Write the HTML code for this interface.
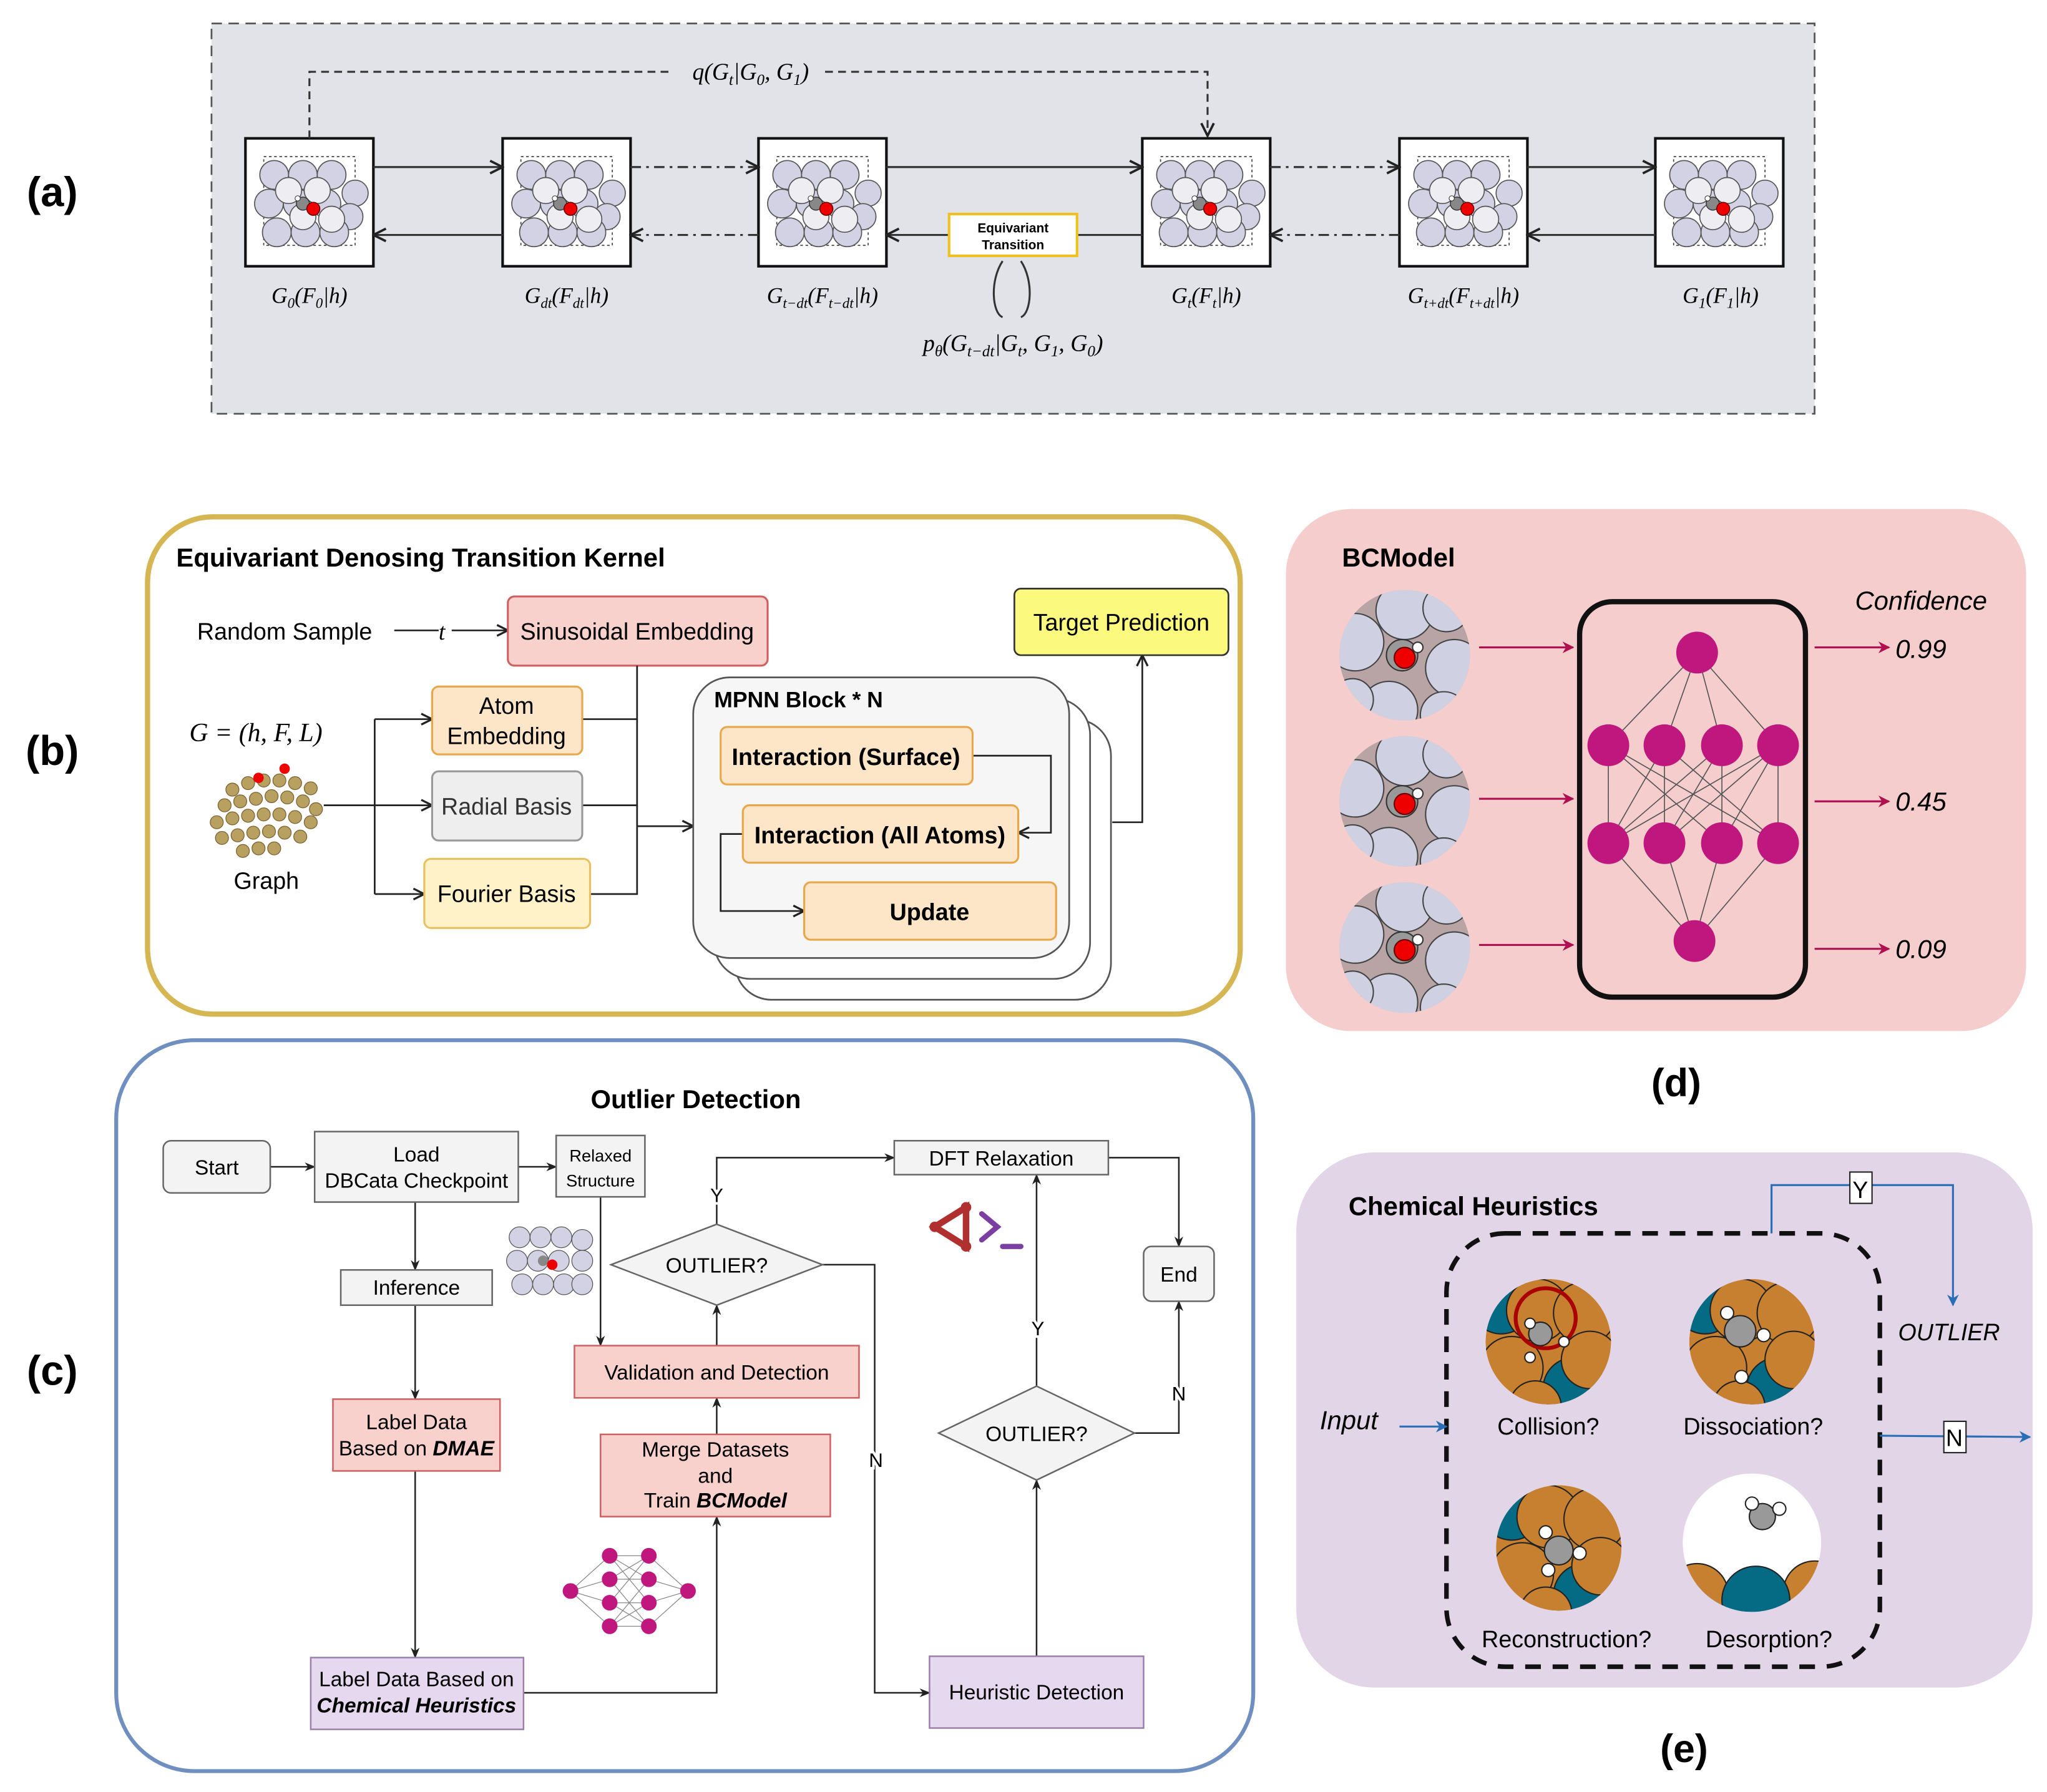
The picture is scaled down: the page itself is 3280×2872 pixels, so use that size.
<!DOCTYPE html>
<html><head><meta charset="utf-8"><style>
html,body{margin:0;padding:0;background:#fff;}
svg{display:block;}
text{font-family:"Liberation Sans",sans-serif;}
.s, .s text{font-family:"Liberation Serif",serif;font-style:italic;}
</style></head><body>
<svg width="3280" height="2872" viewBox="0 0 1568 1373" xmlns="http://www.w3.org/2000/svg">
<defs>
<clipPath id="c50"><circle r="50"/></clipPath>
<clipPath id="c48"><circle r="48"/></clipPath>
<clipPath id="c53"><circle cx="1342" cy="1182" r="53"/></clipPath>
<marker id="ah" viewBox="0 0 10 10" refX="9" refY="5" markerWidth="7" markerHeight="7" orient="auto-start-reverse"><path d="M0,1 L10,5 L0,9 L3,5z" fill="#222"/></marker>
<marker id="ao" viewBox="0 0 10 10" refX="9" refY="5" markerWidth="8" markerHeight="8" orient="auto"><path d="M1,1 L9,5 L1,9" fill="none" stroke="#222" stroke-width="1.5"/></marker>
<marker id="ar" viewBox="0 0 10 10" refX="9" refY="5" markerWidth="6" markerHeight="6" orient="auto"><path d="M0,0 L10,5 L0,10 L3,5z" fill="#b01050"/></marker>
<marker id="ab" viewBox="0 0 10 10" refX="9" refY="5" markerWidth="6" markerHeight="6" orient="auto"><path d="M0,0 L10,5 L0,10 L3,5z" fill="#2a6fb5"/></marker>
<g id="slab">
<rect x="0" y="0" width="98" height="98" fill="#fff" stroke="#111" stroke-width="2"/>
<rect x="14" y="14" width="70" height="68" fill="none" stroke="#444" stroke-dasharray="2,2" stroke-width="0.8"/>
<g fill="#d2d2e4" stroke="#555" stroke-width="0.8">
<circle cx="22" cy="28" r="11"/><circle cx="44" cy="28" r="11"/><circle cx="66" cy="28" r="11"/><circle cx="84" cy="42" r="10"/>
<circle cx="18" cy="50" r="11"/><circle cx="40" cy="50" r="11"/><circle cx="62" cy="50" r="11"/><circle cx="80" cy="60" r="10"/>
<circle cx="24" cy="72" r="11"/><circle cx="46" cy="72" r="11"/><circle cx="68" cy="72" r="11"/>
</g>
<g fill="#eeeef2" stroke="#555" stroke-width="0.8"><circle cx="33" cy="40" r="10"/><circle cx="55" cy="40" r="10"/><circle cx="44" cy="60" r="10"/><circle cx="66" cy="62" r="10"/></g>
<circle cx="44" cy="50" r="5" fill="#888" stroke="#333" stroke-width="0.7"/>
<circle cx="52" cy="54" r="5" fill="#e00" stroke="#600" stroke-width="0.7"/>
<circle cx="40" cy="46" r="2" fill="#fff" stroke="#333" stroke-width="0.5"/>
</g>
<g id="mol">
<g clip-path="url(#c50)">
<circle r="50" fill="#b8a4a4"/>
<g fill="#cfd0e2" stroke="#444" stroke-width="1">
<circle cx="0" cy="-34" r="22"/><circle cx="-38" cy="-10" r="22"/><circle cx="38" cy="10" r="22"/><circle cx="-12" cy="42" r="22"/><circle cx="32" cy="-36" r="18"/><circle cx="30" cy="46" r="18"/><circle cx="-40" cy="34" r="16"/>
</g>
<circle cx="-2" cy="0" r="12" fill="#999" stroke="#333"/>
<circle cx="0" cy="2" r="8" fill="#e00" stroke="#600"/>
<circle cx="10" cy="-6" r="4" fill="#fff" stroke="#333"/>
</g>
</g>
<g id="cu">
<g clip-path="url(#c48)">
<circle r="48" fill="#c6802f"/>
<g stroke="#222" stroke-width="1">
<circle cx="-36" cy="-30" r="24" fill="#056a84"/><circle cx="20" cy="36" r="24" fill="#056a84"/>
<circle cx="-8" cy="-24" r="24" fill="#c6802f"/><circle cx="28" cy="-22" r="24" fill="#c6802f"/><circle cx="-28" cy="20" r="24" fill="#c6802f"/><circle cx="32" cy="14" r="22" fill="#c6802f"/><circle cx="-10" cy="50" r="20" fill="#c6802f"/>
</g>
</g>
</g>
</defs>

<!-- (a) -->
<text x="40" y="158" font-size="32" font-weight="bold" text-anchor="middle">(a)</text>
<rect x="162" y="18" width="1228" height="299" fill="#e1e3e8" stroke="#555" stroke-dasharray="8,5" stroke-width="1.3"/>
<use href="#slab" x="188" y="106"/><use href="#slab" x="385" y="106"/><use href="#slab" x="581" y="106"/>
<use href="#slab" x="875" y="106"/><use href="#slab" x="1072" y="106"/><use href="#slab" x="1268" y="106"/>
<g stroke="#333" stroke-width="1.5" fill="none">
<line x1="286" y1="128" x2="385" y2="128" marker-end="url(#ao)"/>
<line x1="483" y1="128" x2="581" y2="128" stroke-dasharray="8,4,2,4" marker-end="url(#ao)"/>
<line x1="679" y1="128" x2="875" y2="128" marker-end="url(#ao)"/>
<line x1="973" y1="128" x2="1072" y2="128" stroke-dasharray="8,4,2,4" marker-end="url(#ao)"/>
<line x1="1170" y1="128" x2="1268" y2="128" marker-end="url(#ao)"/>
<line x1="385" y1="180" x2="286" y2="180" marker-end="url(#ao)"/>
<line x1="581" y1="180" x2="483" y2="180" stroke-dasharray="8,4,2,4" marker-end="url(#ao)"/>
<line x1="727" y1="180" x2="679" y2="180" marker-end="url(#ao)"/>
<line x1="875" y1="180" x2="825" y2="180"/>
<line x1="1072" y1="180" x2="973" y2="180" stroke-dasharray="8,4,2,4" marker-end="url(#ao)"/>
<line x1="1268" y1="180" x2="1170" y2="180" marker-end="url(#ao)"/>
<path d="M237,106 V55 H515 M632,55 H925 V104" stroke-dasharray="6,4" marker-end="url(#ao)"/>
<path d="M768,200 C758,215 760,240 768,243 M782,200 C792,215 790,240 782,243"/>
</g>
<rect x="727" y="164" width="98" height="32" fill="#fff" stroke="#f0c020" stroke-width="2"/>
<text x="776" y="178" font-size="10" font-weight="bold" text-anchor="middle">Equivariant</text>
<text x="776" y="191" font-size="10" font-weight="bold" text-anchor="middle">Transition</text>
<text x="575" y="61" font-size="18" class="s" text-anchor="middle">q(G<tspan font-size="12" dy="4">t</tspan><tspan dy="-4">|G</tspan><tspan font-size="12" dy="4">0</tspan><tspan dy="-4">, G</tspan><tspan font-size="12" dy="4">1</tspan><tspan dy="-4">)</tspan></text>
<text x="776" y="269" font-size="18" class="s" text-anchor="middle">p<tspan font-size="12" dy="4">θ</tspan><tspan dy="-4">(G</tspan><tspan font-size="12" dy="4">t−dt</tspan><tspan dy="-4">|G</tspan><tspan font-size="12" dy="4">t</tspan><tspan dy="-4">, G</tspan><tspan font-size="12" dy="4">1</tspan><tspan dy="-4">, G</tspan><tspan font-size="12" dy="4">0</tspan><tspan dy="-4">)</tspan></text>
<g font-size="17" class="s" text-anchor="middle">
<text x="237" y="232">G<tspan font-size="11" dy="4">0</tspan><tspan dy="-4">(F</tspan><tspan font-size="11" dy="4">0</tspan><tspan dy="-4">|h)</tspan></text>
<text x="434" y="232">G<tspan font-size="11" dy="4">dt</tspan><tspan dy="-4">(F</tspan><tspan font-size="11" dy="4">dt</tspan><tspan dy="-4">|h)</tspan></text>
<text x="630" y="232">G<tspan font-size="11" dy="4">t−dt</tspan><tspan dy="-4">(F</tspan><tspan font-size="11" dy="4">t−dt</tspan><tspan dy="-4">|h)</tspan></text>
<text x="924" y="232">G<tspan font-size="11" dy="4">t</tspan><tspan dy="-4">(F</tspan><tspan font-size="11" dy="4">t</tspan><tspan dy="-4">|h)</tspan></text>
<text x="1121" y="232">G<tspan font-size="11" dy="4">t+dt</tspan><tspan dy="-4">(F</tspan><tspan font-size="11" dy="4">t+dt</tspan><tspan dy="-4">|h)</tspan></text>
<text x="1318" y="232">G<tspan font-size="11" dy="4">1</tspan><tspan dy="-4">(F</tspan><tspan font-size="11" dy="4">1</tspan><tspan dy="-4">|h)</tspan></text>
</g>

<!-- (b) -->
<text x="40" y="586" font-size="32" font-weight="bold" text-anchor="middle">(b)</text>
<rect x="113" y="396" width="837" height="381" rx="50" fill="#fff" stroke="#d6b652" stroke-width="4"/>
<text x="135" y="434" font-size="20" font-weight="bold">Equivariant Denosing Transition Kernel</text>
<text x="151" y="490" font-size="18">Random Sample</text>
<line x1="302" y1="483" x2="336" y2="483" stroke="#222" stroke-width="1.3"/>
<text x="336" y="490" font-size="18" class="s">t</text>
<line x1="346" y1="483" x2="389" y2="483" stroke="#222" stroke-width="1.3" marker-end="url(#ao)"/>
<rect x="389" y="457" width="199" height="53" rx="5" fill="#f8d0cc" stroke="#d06060" stroke-width="1.5"/>
<text x="488" y="490" font-size="18" text-anchor="middle">Sinusoidal Embedding</text>
<text x="145" y="568" font-size="20" class="s">G = (h, F, L)</text>
<g>
<g fill="#b8a060" stroke="#7a6030" stroke-width="0.6">
<circle cx="178" cy="605" r="5"/><circle cx="190" cy="600" r="5"/><circle cx="202" cy="598" r="5"/><circle cx="214" cy="598" r="5"/><circle cx="226" cy="600" r="5"/><circle cx="238" cy="604" r="5"/>
<circle cx="172" cy="617" r="5"/><circle cx="184" cy="614" r="5"/><circle cx="196" cy="612" r="5"/><circle cx="208" cy="610" r="5"/><circle cx="220" cy="611" r="5"/><circle cx="232" cy="614" r="5"/><circle cx="242" cy="620" r="5"/>
<circle cx="166" cy="630" r="5"/><circle cx="178" cy="627" r="5"/><circle cx="190" cy="625" r="5"/><circle cx="202" cy="624" r="5"/><circle cx="214" cy="624" r="5"/><circle cx="226" cy="626" r="5"/><circle cx="238" cy="630" r="5"/>
<circle cx="170" cy="642" r="5"/><circle cx="182" cy="640" r="5"/><circle cx="194" cy="638" r="5"/><circle cx="206" cy="637" r="5"/><circle cx="218" cy="638" r="5"/><circle cx="230" cy="641" r="5"/>
<circle cx="186" cy="652" r="5"/><circle cx="198" cy="650" r="5"/><circle cx="210" cy="650" r="5"/>
</g>
<circle cx="198" cy="596" r="4" fill="#e00"/><circle cx="218" cy="589" r="4" fill="#e00"/>
</g>
<text x="204" y="681" font-size="18" text-anchor="middle">Graph</text>
<g stroke="#222" stroke-width="1.3" fill="none">
<path d="M287,551 V685 M287,551 H331" marker-end="url(#ao)"/>
<path d="M287,685 H325" marker-end="url(#ao)"/>
<path d="M248,617 H331" marker-end="url(#ao)"/>
<path d="M488,510 V685 H452 M446,551 H488 M446,617 H488"/>
<path d="M488,633 H531" marker-end="url(#ao)"/>
<path d="M852,630 H875 V502" marker-end="url(#ao)"/>
</g>
<rect x="331" y="526" width="115" height="52" rx="5" fill="#fde5c8" stroke="#e8a74a" stroke-width="1.5"/>
<text x="388" y="547" font-size="18" text-anchor="middle">Atom</text><text x="388" y="570" font-size="18" text-anchor="middle">Embedding</text>
<rect x="331" y="591" width="115" height="53" rx="5" fill="#eeeeee" stroke="#999" stroke-width="1.5"/>
<text x="388" y="624" font-size="18" text-anchor="middle" fill="#333">Radial Basis</text>
<rect x="325" y="658" width="127" height="53" rx="5" fill="#fff2c8" stroke="#e8c060" stroke-width="1.5"/>
<text x="388" y="691" font-size="18" text-anchor="middle">Fourier Basis</text>
<rect x="563" y="551" width="288" height="215" rx="28" fill="#fff" stroke="#555" stroke-width="1.3"/>
<rect x="547" y="535" width="288" height="215" rx="28" fill="#fff" stroke="#555" stroke-width="1.3"/>
<rect x="531" y="519" width="288" height="215" rx="28" fill="#f6f6f6" stroke="#555" stroke-width="1.3"/>
<g stroke="#222" stroke-width="1.3" fill="none">
<path d="M745,579 H805 V638 H780" marker-end="url(#ao)"/>
<path d="M569,639 H552 V698 H616" marker-end="url(#ao)"/>
</g>
<text x="547" y="542" font-size="17" font-weight="bold">MPNN Block * N</text>
<rect x="552" y="557" width="193" height="44" rx="5" fill="#fde5c8" stroke="#e8a74a" stroke-width="1.5"/>
<text x="648" y="586" font-size="18" font-weight="bold" text-anchor="middle">Interaction (Surface)</text>
<rect x="569" y="617" width="211" height="44" rx="5" fill="#fde5c8" stroke="#e8a74a" stroke-width="1.5"/>
<text x="674" y="646" font-size="18" font-weight="bold" text-anchor="middle">Interaction (All Atoms)</text>
<rect x="616" y="676" width="193" height="44" rx="5" fill="#fde5c8" stroke="#e8a74a" stroke-width="1.5"/>
<text x="712" y="705" font-size="18" font-weight="bold" text-anchor="middle">Update</text>
<rect x="777" y="451" width="164" height="51" rx="5" fill="#fbf97e" stroke="#333" stroke-width="1.3"/>
<text x="859" y="483" font-size="18" text-anchor="middle">Target Prediction</text>

<!-- (d) -->
<rect x="985" y="390" width="567" height="400" rx="50" fill="#f4cdcc"/>
<text x="1028" y="434" font-size="20" font-weight="bold">BCModel</text>
<use href="#mol" x="1076" y="502"/><use href="#mol" x="1076" y="614"/><use href="#mol" x="1076" y="726"/>
<g stroke="#b01050" stroke-width="1.5">
<line x1="1133" y1="496" x2="1205" y2="496" marker-end="url(#ar)"/>
<line x1="1133" y1="612" x2="1205" y2="612" marker-end="url(#ar)"/>
<line x1="1133" y1="724" x2="1205" y2="724" marker-end="url(#ar)"/>
<line x1="1390" y1="496" x2="1447" y2="496" marker-end="url(#ar)"/>
<line x1="1390" y1="614" x2="1447" y2="614" marker-end="url(#ar)"/>
<line x1="1390" y1="727" x2="1447" y2="727" marker-end="url(#ar)"/>
</g>
<rect x="1210" y="461" width="173" height="303" rx="25" fill="none" stroke="#111" stroke-width="4"/>
<g stroke="#555" stroke-width="0.8" fill="none">
<path d="M1300,500 L1232,571 M1300,500 L1275,571 M1300,500 L1319,571 M1300,500 L1362,571"/>
<path d="M1232,571 L1232,646 L1275,571 L1275,646 L1319,571 L1319,646 L1362,571 L1362,646 L1232,571 L1319,646 M1232,571 L1362,646 M1275,571 L1362,646 M1275,571 L1232,646 M1319,571 L1232,646 M1362,571 L1232,646 M1362,571 L1275,646 M1319,571 L1275,646"/>
<path d="M1298,721 L1232,646 M1298,721 L1275,646 M1298,721 L1319,646 M1298,721 L1362,646"/>
</g>
<g fill="#c0177f">
<circle cx="1300" cy="500" r="16"/>
<circle cx="1232" cy="571" r="16"/><circle cx="1275" cy="571" r="16"/><circle cx="1319" cy="571" r="16"/><circle cx="1362" cy="571" r="16"/>
<circle cx="1232" cy="646" r="16"/><circle cx="1275" cy="646" r="16"/><circle cx="1319" cy="646" r="16"/><circle cx="1362" cy="646" r="16"/>
<circle cx="1298" cy="721" r="16"/>
</g>
<g font-size="20" font-style="italic">
<text x="1421" y="467">Confidence</text>
<text x="1452" y="504">0.99</text><text x="1452" y="621">0.45</text><text x="1452" y="734">0.09</text>
</g>
<text x="1284" y="840" font-size="30" font-weight="bold" text-anchor="middle">(d)</text>

<!-- (c) -->
<text x="40" y="1061" font-size="32" font-weight="bold" text-anchor="middle">(c)</text>
<rect x="89" y="797" width="871" height="560" rx="60" fill="#fff" stroke="#6f8fc0" stroke-width="3"/>
<text x="533" y="849" font-size="20" font-weight="bold" text-anchor="middle">Outlier Detection</text>
<g stroke="#222" stroke-width="1.2" fill="none">
<path d="M207,894 H241" marker-end="url(#ah)"/>
<path d="M397,894 H426" marker-end="url(#ah)"/>
<path d="M318,921 V973" marker-end="url(#ah)"/>
<path d="M318,1000 V1072" marker-end="url(#ah)"/>
<path d="M318,1127 V1270" marker-end="url(#ah)"/>
<path d="M401,1297 H549 V1162" marker-end="url(#ah)"/>
<path d="M549,1099 V1071" marker-end="url(#ah)"/>
<path d="M549,1031 V1000" marker-end="url(#ah)"/>
<path d="M549,938 V887 H685" marker-end="url(#ah)"/>
<path d="M630,969 H670 V1297 H712" marker-end="url(#ah)"/>
<path d="M460,917 V1031" marker-end="url(#ah)"/>
<path d="M794,1269 V1134" marker-end="url(#ah)"/>
<path d="M794,1062 V900" marker-end="url(#ah)"/>
<path d="M869,1098 H903 V997" marker-end="url(#ah)"/>
<path d="M849,887 H903 V955" marker-end="url(#ah)"/>
</g>
<g font-size="15" text-anchor="middle">
<text x="549" y="921" fill="#111" stroke="#fff" stroke-width="4" paint-order="stroke">Y</text>
<text x="671" y="1124" stroke="#fff" stroke-width="4" paint-order="stroke">N</text>
<text x="795" y="1023" stroke="#fff" stroke-width="4" paint-order="stroke">Y</text>
<text x="903" y="1073" stroke="#fff" stroke-width="4" paint-order="stroke">N</text>
</g>
<rect x="125" y="874" width="82" height="40" rx="6" fill="#f3f3f3" stroke="#666" stroke-width="1.2"/>
<text x="166" y="900" font-size="16" text-anchor="middle">Start</text>
<rect x="241" y="867" width="156" height="54" fill="#f3f3f3" stroke="#666" stroke-width="1.2"/>
<text x="319" y="890" font-size="16" text-anchor="middle">Load</text><text x="319" y="910" font-size="16" text-anchor="middle">DBCata Checkpoint</text>
<rect x="426" y="870" width="68" height="47" fill="#f3f3f3" stroke="#666" stroke-width="1.2"/>
<text x="460" y="890" font-size="13" text-anchor="middle">Relaxed</text><text x="460" y="909" font-size="13" text-anchor="middle">Structure</text>
<rect x="261" y="973" width="116" height="27" fill="#f3f3f3" stroke="#666" stroke-width="1.2"/>
<text x="319" y="992" font-size="16" text-anchor="middle">Inference</text>
<rect x="255" y="1072" width="128" height="55" fill="#f8d0cc" stroke="#d06060" stroke-width="1.2"/>
<text x="319" y="1095" font-size="16" text-anchor="middle">Label Data</text><text x="319" y="1115" font-size="16" text-anchor="middle">Based on <tspan font-weight="bold" font-style="italic">DMAE</tspan></text>
<rect x="238" y="1270" width="163" height="55" fill="#e6d8ee" stroke="#9a80aa" stroke-width="1.2"/>
<text x="319" y="1292" font-size="16" text-anchor="middle">Label Data Based on</text><text x="319" y="1312" font-size="16" font-weight="bold" font-style="italic" text-anchor="middle">Chemical Heuristics</text>
<polygon points="468,969 549,938 630,969 549,1000" fill="#f3f3f3" stroke="#666" stroke-width="1.2"/>
<text x="549" y="975" font-size="16" text-anchor="middle">OUTLIER?</text>
<rect x="440" y="1031" width="218" height="40" fill="#f8d0cc" stroke="#d06060" stroke-width="1.2"/>
<text x="549" y="1057" font-size="16" text-anchor="middle">Validation and Detection</text>
<rect x="460" y="1099" width="176" height="63" fill="#f8d0cc" stroke="#d06060" stroke-width="1.2"/>
<text x="548" y="1116" font-size="16" text-anchor="middle">Merge Datasets</text><text x="548" y="1136" font-size="16" text-anchor="middle">and</text><text x="548" y="1155" font-size="16" text-anchor="middle">Train <tspan font-weight="bold" font-style="italic">BCModel</tspan></text>
<g>
<rect x="388" y="938" width="68" height="58" fill="#fff"/>
<g fill="#d2d2e4" stroke="#555" stroke-width="0.6">
<circle cx="398" cy="948" r="8"/><circle cx="414" cy="948" r="8"/><circle cx="430" cy="948" r="8"/><circle cx="446" cy="950" r="8"/>
<circle cx="396" cy="966" r="8"/><circle cx="412" cy="966" r="8"/><circle cx="428" cy="966" r="8"/><circle cx="446" cy="966" r="8"/>
<circle cx="400" cy="984" r="8"/><circle cx="416" cy="984" r="8"/><circle cx="432" cy="984" r="8"/><circle cx="446" cy="984" r="8"/>
</g>
<circle cx="416" cy="966" r="4" fill="#888"/><circle cx="423" cy="969" r="4" fill="#e00"/>
</g>
<g stroke="#888" stroke-width="0.6" fill="none">
<path d="M437,1219 L467,1192 M437,1219 L467,1210 M437,1219 L467,1228 M437,1219 L467,1246 M497,1192 L527,1219 M497,1210 L527,1219 M497,1228 L527,1219 M497,1246 L527,1219"/>
<path d="M467,1192 L497,1192 M467,1192 L497,1210 M467,1192 L497,1228 M467,1210 L497,1192 M467,1210 L497,1210 M467,1210 L497,1246 M467,1228 L497,1228 M467,1228 L497,1192 M467,1228 L497,1246 M467,1246 L497,1246 M467,1246 L497,1210 M467,1246 L497,1228"/>
</g>
<g fill="#c0177f"><circle cx="437" cy="1219" r="6"/><circle cx="527" cy="1219" r="6"/>
<circle cx="467" cy="1192" r="6"/><circle cx="467" cy="1210" r="6"/><circle cx="467" cy="1228" r="6"/><circle cx="467" cy="1246" r="6"/>
<circle cx="497" cy="1192" r="6"/><circle cx="497" cy="1210" r="6"/><circle cx="497" cy="1228" r="6"/><circle cx="497" cy="1246" r="6"/></g>
<rect x="685" y="874" width="164" height="26" fill="#f3f3f3" stroke="#666" stroke-width="1.2"/>
<text x="767" y="893" font-size="16" text-anchor="middle">DFT Relaxation</text>
<rect x="876" y="955" width="54" height="42" rx="6" fill="#f3f3f3" stroke="#666" stroke-width="1.2"/>
<text x="903" y="982" font-size="16" text-anchor="middle">End</text>
<polygon points="719,1098 794,1062 869,1098 794,1134" fill="#f3f3f3" stroke="#666" stroke-width="1.2"/>
<text x="794" y="1104" font-size="16" text-anchor="middle">OUTLIER?</text>
<rect x="712" y="1269" width="164" height="55" fill="#e6d8ee" stroke="#9a80aa" stroke-width="1.2"/>
<text x="794" y="1302" font-size="16" text-anchor="middle">Heuristic Detection</text>
<g stroke-linecap="round">
<path d="M740,925 L716,940 L740,955 Z" fill="none" stroke="#b03030" stroke-width="5"/>
<circle cx="740" cy="925" r="4" fill="#b03030"/><circle cx="716" cy="940" r="4" fill="#b03030"/><circle cx="740" cy="955" r="4" fill="#b03030"/>
<path d="M752,930 L764,940 L752,950" fill="none" stroke="#7a3fa0" stroke-width="4"/>
<line x1="768" y1="955" x2="782" y2="955" stroke="#7a3fa0" stroke-width="4"/>
</g>

<!-- (e) -->
<rect x="993" y="883" width="564" height="410" rx="60" fill="#e2d5e7"/>
<text x="1033" y="931" font-size="20" font-weight="bold">Chemical Heuristics</text>
<rect x="1108" y="945" width="332" height="332" rx="45" fill="none" stroke="#111" stroke-width="3.5" stroke-dasharray="12,9"/>
<use href="#cu" x="1186" y="1028"/>
<circle cx="1184" cy="1010" r="23" fill="none" stroke="#a00" stroke-width="3"/>
<circle cx="1180" cy="1022" r="9" fill="#999" stroke="#222"/><circle cx="1172" cy="1014" r="4" fill="#fff" stroke="#222"/><circle cx="1198" cy="1028" r="4" fill="#fff" stroke="#222"/><circle cx="1172" cy="1040" r="4" fill="#fff" stroke="#222"/>
<use href="#cu" x="1342" y="1028"/>
<circle cx="1333" cy="1020" r="12" fill="#999" stroke="#222"/><circle cx="1323" cy="1006" r="5" fill="#fff" stroke="#222"/><circle cx="1351" cy="1023" r="5" fill="#fff" stroke="#222"/><circle cx="1334" cy="1055" r="5" fill="#fff" stroke="#222"/>
<use href="#cu" x="1194" y="1186"/>
<circle cx="1194" cy="1188" r="11" fill="#999" stroke="#222"/><circle cx="1184" cy="1174" r="5" fill="#fff" stroke="#222"/><circle cx="1210" cy="1190" r="5" fill="#fff" stroke="#222"/><circle cx="1186" cy="1203" r="5" fill="#fff" stroke="#222"/>
<circle cx="1342" cy="1182" r="53" fill="#fff"/>
<g clip-path="url(#c53)">
<circle cx="1310" cy="1240" r="28" fill="#056a84" stroke="#222"/>
<circle cx="1300" cy="1222" r="24" fill="#c6802f" stroke="#222"/><circle cx="1390" cy="1220" r="24" fill="#c6802f" stroke="#222"/>
<circle cx="1345" cy="1226" r="26" fill="#056a84" stroke="#222"/>
</g>
<circle cx="1350" cy="1162" r="10" fill="#999" stroke="#222"/><circle cx="1342" cy="1152" r="5" fill="#fff" stroke="#222"/><circle cx="1363" cy="1156" r="5" fill="#fff" stroke="#222"/>
<g font-size="18" text-anchor="middle">
<text x="1186" y="1099">Collision?</text><text x="1343" y="1099">Dissociation?</text>
<text x="1200" y="1262">Reconstruction?</text><text x="1355" y="1262">Desorption?</text>
</g>
<text x="1011" y="1095" font-size="20" font-style="italic">Input</text>
<text x="1454" y="1027" font-size="18" font-style="italic">OUTLIER</text>
<g stroke="#2a6fb5" stroke-width="1.5" fill="none">
<line x1="1072" y1="1093" x2="1108" y2="1093" marker-end="url(#ab)"/>
<path d="M1357,945 V908 H1496 V1000" marker-end="url(#ab)"/>
<line x1="1440" y1="1100" x2="1555" y2="1101" marker-end="url(#ab)"/>
</g>
<rect x="1417" y="898" width="17" height="24" fill="#fff" stroke="#222"/>
<text x="1425" y="918" font-size="18" text-anchor="middle">Y</text>
<rect x="1489" y="1089" width="17" height="24" fill="#fff" stroke="#222"/>
<text x="1497" y="1108" font-size="18" text-anchor="middle">N</text>
<text x="1290" y="1350" font-size="30" font-weight="bold" text-anchor="middle">(e)</text>
</svg>
</body></html>
